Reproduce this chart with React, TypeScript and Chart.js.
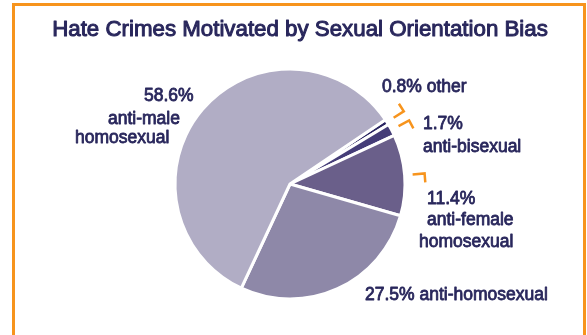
import React, { useEffect, useRef } from "react";
import { Chart, registerables } from "chart.js";

Chart.register(...registerables);

const TITLE = "Hate Crimes Motivated by Sexual Orientation Bias";
const CATEGORIES = ["other", "anti-bisexual", "anti-female homosexual", "anti-homosexual", "anti-male homosexual"];
const VALUES = [0.8, 1.7, 11.4, 27.5, 58.6];
const COLORS = ["#2a2562", "#453d78", "#6a5f8a", "#8e88a8", "#b1adc5"];
const LABEL_LINES: string[][] = [
  ["0.8% other"],
  ["1.7%", "anti-bisexual"],
  ["11.4%", "anti-female", "homosexual"],
  ["27.5% anti-homosexual"],
  ["58.6%", "anti-male", "homosexual"],
];
// offsets of each label line relative to pie centre (text left edge, text vertical centre)
const LABEL_OFFSETS: number[][][] = [
  [[92, -98]],
  [[133, -61], [133, -38]],
  [[137, 14], [137, 35], [129, 57]],
  [[75, 110]],
  [[-146, -89], [-182, -66], [-215, -47]],
];
// orange tick marks: 0 = none, 1 = clockwise leg, -1 = counter-clockwise leg
const TICKS = [-1, 1, 1, 0, 0];

const TEXT = "#29275c";
const ORANGE = "#f7941d";

const labelPlugin = {
  id: "customLabels",
  afterDraw(chart: any) {
    const ctx = chart.ctx;
    const meta = chart.getDatasetMeta(0);
    ctx.save();
    // title
    ctx.fillStyle = TEXT;
    ctx.strokeStyle = TEXT;
    ctx.font = "22.3px 'Liberation Sans', Arial, sans-serif";
    ctx.textAlign = "center";
    ctx.textBaseline = "alphabetic";
    ctx.lineJoin = "round";
    ctx.lineWidth = 1;
    ctx.fillText(TITLE, 300, 36);
    ctx.strokeText(TITLE, 300, 36);

    const size = 17.5;
    ctx.font = `${size}px 'Liberation Sans', Arial, sans-serif`;
    ctx.textAlign = "left";
    meta.data.forEach((arc: any, i: number) => {
      const cx = arc.x;
      const cy = arc.y;
      LABEL_LINES[i].forEach((line, j) => {
        const [dx, dy] = LABEL_OFFSETS[i][j];
        const by = cy + dy + size * 0.36;
        ctx.fillStyle = TEXT;
        ctx.strokeStyle = TEXT;
        ctx.lineWidth = 0.8;
        ctx.lineJoin = "round";
        ctx.fillText(line, cx + dx, by);
        ctx.strokeText(line, cx + dx, by);
      });
      if (TICKS[i] !== 0) {
        const mid = (arc.startAngle + arc.endAngle) / 2;
        const r = 135;
        const px = cx + Math.cos(mid) * r;
        const py = cy + Math.sin(mid) * r;
        const ax = px - Math.cos(mid) * 12;
        const ay = py - Math.sin(mid) * 12;
        const t = TICKS[i];
        const bx = px - Math.sin(mid) * 9 * t;
        const by2 = py + Math.cos(mid) * 9 * t;
        ctx.beginPath();
        ctx.moveTo(ax, ay);
        ctx.lineTo(px, py);
        ctx.lineTo(bx, by2);
        ctx.strokeStyle = ORANGE;
        ctx.lineWidth = 2.5;
        ctx.lineJoin = "miter";
        ctx.stroke();
      }
    });
    ctx.restore();
  },
};

export default function App() {
  const ref = useRef<HTMLCanvasElement>(null);
  useEffect(() => {
    if (!ref.current) return;
    const chart = new Chart(ref.current, {
      type: "pie",
      data: {
        labels: CATEGORIES,
        datasets: [
          {
            data: VALUES,
            backgroundColor: COLORS,
            borderColor: "#ffffff",
            borderWidth: 3,
          },
        ],
      },
      options: {
        responsive: false,
        animation: false,
        rotation: 56,
        radius: 115,
        layout: { padding: { left: 60, right: 67, top: 53, bottom: 20 } },
        plugins: {
          legend: { display: false },
          title: { display: false },
          tooltip: { enabled: false },
        },
      },
      plugins: [labelPlugin],
    });
    return () => chart.destroy();
  }, []);

  return (
    <div style={{ position: "fixed", left: 0, top: 0, width: 587, height: 335, background: "#fff", overflow: "hidden" }}>
      <div
        style={{
          position: "absolute",
          left: 12,
          top: 3,
          width: 568,
          height: 400,
          border: `3px solid ${ORANGE}`,
        }}
      />
      <canvas ref={ref} width={587} height={335} style={{ position: "absolute", left: 0, top: 0 }} />
    </div>
  );
}
